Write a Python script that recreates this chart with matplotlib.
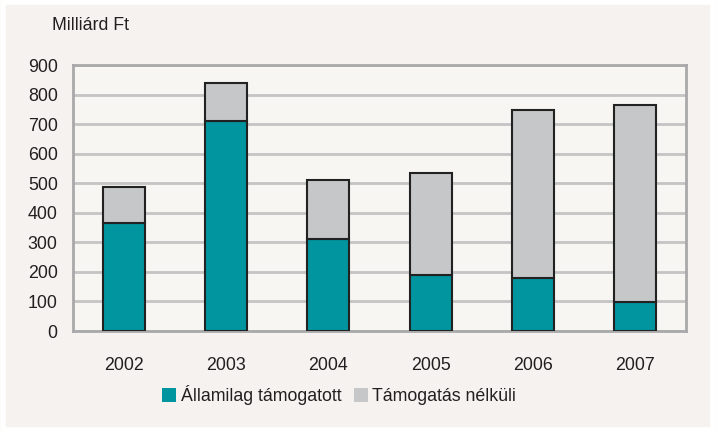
import numpy as np
import matplotlib.pyplot as plt
from matplotlib.patches import Rectangle

# data (Milliárd Ft)
years = ['2002', '2003', '2004', '2005', '2006', '2007']
allami = [365, 711, 311, 189, 179, 99]
total = [488, 838, 511, 535, 747, 766]
nelkuli = [t - a for t, a in zip(total, allami)]

plt.rcParams['font.family'] = ['Liberation Sans', 'DejaVu Sans']

bg = '#f5f2ef'
teal = '#00959f'
grey = '#c6c7c9'
txt = '#231f20'
fs = 12.8

fig = plt.figure(figsize=(7.16, 4.32), dpi=100, facecolor=bg)
# white frame round the panel
fig.patches.append(Rectangle((0.004, 0.004), 0.992, 0.992, transform=fig.transFigure,
                             fill=False, edgecolor='white', linewidth=4, zorder=0))

ax = fig.add_axes([73 / 716, 1 - 331 / 432, 613 / 716, 266 / 432])
ax.set_facecolor('#f8f6f3')

x = np.arange(len(years))
w = 0.41
ax.bar(x, allami, w, color=teal, edgecolor='#222222', linewidth=1.5,
       label='Államilag támogatott', zorder=3)
ax.bar(x, nelkuli, w, bottom=allami, color=grey, edgecolor='#222222', linewidth=1.5,
       label='Támogatás nélküli', zorder=3)

ax.set_xlim(-0.5, len(years) - 0.5)
ax.set_ylim(0, 900)
ax.set_yticks(np.arange(0, 901, 100))
ax.set_xticks(x)
ax.set_xticklabels(years)
ax.grid(axis='y', color='#c4c4c4', linewidth=2, zorder=0)
ax.tick_params(length=0, labelsize=fs, colors=txt)
ax.tick_params(axis='x', pad=19)
ax.tick_params(axis='y', pad=11)
for s in ax.spines.values():
    s.set_color('#a9a9a9')
    s.set_linewidth(2)

fig.text(52 / 716, 1 - 25 / 432, 'Milliárd Ft', fontsize=fs, color=txt,
         ha='left', va='center')

leg = fig.legend(loc='center', bbox_to_anchor=(339 / 716, 1 - 395 / 432), ncol=2,
                 frameon=False, fontsize=fs, handlelength=0.8, handleheight=0.8,
                 handletextpad=0.25, columnspacing=0.7)
for h in leg.legend_handles:
    h.set_edgecolor('none')
for t in leg.get_texts():
    t.set_color(txt)

fig.savefig('out.png', dpi=100, facecolor=bg)
